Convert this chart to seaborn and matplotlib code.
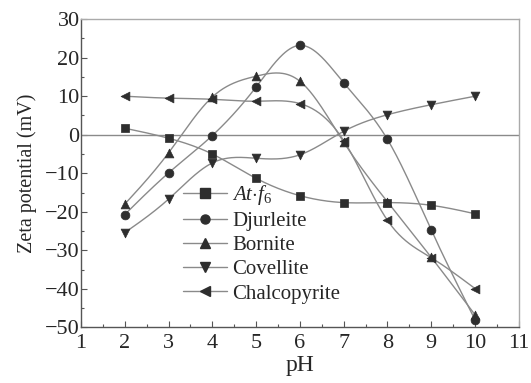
import numpy as np
import pandas as pd
import matplotlib
matplotlib.use("Agg")
import matplotlib.pyplot as plt
from matplotlib.lines import Line2D
from matplotlib.ticker import MultipleLocator
import seaborn as sns

ph = [2, 3, 4, 5, 6, 7, 8, 9, 10]
at_f6 = [1.7, -0.9, -5.0, -11.3, -15.8, -17.6, -17.6, -18.3, -20.5]
djurleite = [-20.7, -9.9, -0.2, 12.4, 23.2, 13.5, -1.2, -24.7, -48.0]
bornite = [-18.0, -4.7, 9.8, 15.2, 13.9, -1.9, -17.4, -31.8, -46.7]
covellite = [-25.4, -16.7, -7.3, -6.1, -5.2, 0.9, 5.2, 7.8, 10.0]
chalcopyrite = [10.0, 9.5, 9.2, 8.7, 8.1, -1.5, -22.2, -31.9, -39.9]

labels = [r"$At{\cdot}f_6$", "Djurleite", "Bornite", "Covellite", "Chalcopyrite"]
series = [at_f6, djurleite, bornite, covellite, chalcopyrite]
markers = ["s", "o", "^", "v", "<"]


def natural_spline(x, y, n=300):
    """Natural cubic spline through (x, y), evaluated on a fine grid."""
    x = np.asarray(x, float)
    y = np.asarray(y, float)
    k = len(x)
    h = np.diff(x)
    A = np.zeros((k, k))
    r = np.zeros(k)
    A[0, 0] = A[-1, -1] = 1.0
    for i in range(1, k - 1):
        A[i, i - 1] = h[i - 1]
        A[i, i] = 2 * (h[i - 1] + h[i])
        A[i, i + 1] = h[i]
        r[i] = 3 * ((y[i + 1] - y[i]) / h[i] - (y[i] - y[i - 1]) / h[i - 1])
    c = np.linalg.solve(A, r)
    b = (y[1:] - y[:-1]) / h - h * (2 * c[:-1] + c[1:]) / 3
    d = (c[1:] - c[:-1]) / (3 * h)
    xs = np.linspace(x[0], x[-1], n)
    idx = np.clip(np.searchsorted(x, xs, side="right") - 1, 0, k - 2)
    dx = xs - x[idx]
    ys = y[idx] + b[idx] * dx + c[idx] * dx ** 2 + d[idx] * dx ** 3
    return xs, ys


sns.set_style("white")
plt.rcParams["font.family"] = ["Liberation Serif", "DejaVu Serif"]
plt.rcParams["mathtext.fontset"] = "custom"
plt.rcParams["mathtext.it"] = "Liberation Serif:italic"
plt.rcParams["mathtext.rm"] = "Liberation Serif"

fig = plt.figure(figsize=(5.31, 3.83), dpi=100)
ax = fig.add_axes([0.1525, 0.145, 0.8245, 0.805])

line_col = "#8a8a8a"
mark_col = "#2e2e2e"

ax.axhline(0, color=line_col, lw=1.0, zorder=1)

handles = []
for name, vals, m in zip(labels, series, markers):
    xs, ys = natural_spline(ph, vals)
    sns.lineplot(x=xs, y=ys, ax=ax, color=line_col, lw=1.0, zorder=2, legend=False)
    df = pd.DataFrame({"pH": ph, "z": vals})
    sns.scatterplot(data=df, x="pH", y="z", ax=ax, marker=m, s=40,
                    color=mark_col, edgecolor=mark_col, zorder=3, legend=False)
    handles.append(Line2D([0], [0], color=line_col, lw=1.0, marker=m,
                          markersize=6.5, markerfacecolor=mark_col,
                          markeredgecolor=mark_col))

ax.set_xlim(1, 11)
ax.set_ylim(-50, 30)
ax.xaxis.set_major_locator(MultipleLocator(1))
ax.xaxis.set_minor_locator(MultipleLocator(0.5))
ax.yaxis.set_major_locator(MultipleLocator(10))
ax.yaxis.set_minor_locator(MultipleLocator(5))
ax.tick_params(axis="both", which="both", direction="in", bottom=True, left=True,
               top=False, right=False, color="#555555", labelsize=16)
ax.tick_params(axis="x", pad=5)
ax.tick_params(axis="y", pad=1)
ax.tick_params(which="major", length=4, width=0.8)
ax.tick_params(which="minor", length=2.5, width=0.8)

for side, sp in ax.spines.items():
    sp.set_linewidth(1.0)
    sp.set_color("#555555" if side in ("left", "bottom") else "#aaaaaa")

ax.set_xlabel("pH", fontsize=17, labelpad=1)
ax.set_ylabel("Zeta potential (mV)", fontsize=14.5, labelpad=6)

ax.legend(handles, labels, loc="lower left", bbox_to_anchor=(0.2, 0.03),
          frameon=False, fontsize=15, handlelength=2.1, handletextpad=0.25,
          labelspacing=0.22, borderaxespad=0.3)

fig.savefig("out.png", dpi=100)
